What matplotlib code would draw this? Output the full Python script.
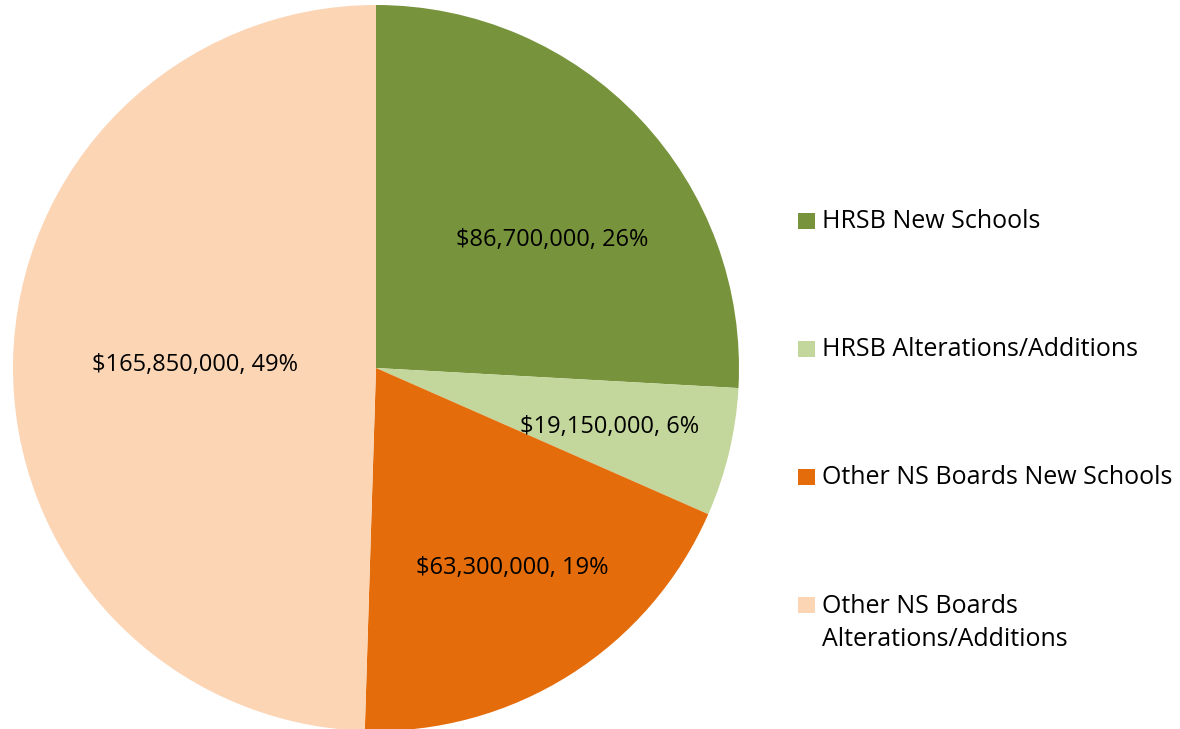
import numpy as np
import matplotlib.pyplot as plt
from matplotlib.patches import Rectangle

labels = ["HRSB New Schools", "HRSB Alterations/Additions",
          "Other NS Boards New Schools", "Other NS Boards\nAlterations/Additions"]
values = [86700000, 19150000, 63300000, 165850000]
pcts = [26, 6, 19, 49]
colors = ["#77933C", "#C3D69B", "#E46C0A", "#FCD5B5"]
# label placement: fraction of radius and angle shift from slice middle
label_dist = [0.60, 0.665, 0.667, 0.5]
label_shift = [-7.5, -0.7, 2.0, 0.0]

plt.rcParams['font.family'] = ['Open Sans', 'DejaVu Sans']

fig = plt.figure(figsize=(11.8, 7.29), dpi=100)
# pie axes: centre ~ (376, 368) px, radius ~ 363 px
r_px = 363
ax = fig.add_axes([(376 - r_px) / 1180, (729 - 368 - r_px) / 729,
                   2 * r_px / 1180, 2 * r_px / 729])
wedges, _ = ax.pie(values, colors=colors, startangle=90, counterclock=False,
                   radius=1, wedgeprops=dict(linewidth=0))
ax.set_xlim(-1, 1)
ax.set_ylim(-1, 1)
ax.set_aspect('auto')
ax.axis('off')

for w, v, p, d, s in zip(wedges, values, pcts, label_dist, label_shift):
    ang = np.deg2rad((w.theta1 + w.theta2) / 2 + s)
    ax.text(d * np.cos(ang), d * np.sin(ang), f"${v:,}, {p}%",
            ha='center', va='center', fontsize=17, color='black')

# legend drawn in pixel coords
lax = fig.add_axes([0, 0, 1, 1])
lax.set_xlim(0, 1180)
lax.set_ylim(729, 0)
lax.axis('off')
ys = [221, 349, 477, 605]
for y, lab, c in zip(ys, labels, colors):
    lax.add_patch(Rectangle((798, y - 8), 17, 16, color=c, lw=0))
    if '\n' in lab:
        lax.text(822, y - 11, lab, va='top', ha='left', fontsize=18,
                 linespacing=1.42)
    else:
        lax.text(822, y, lab, va='center', ha='left', fontsize=18)

fig.savefig("out.png", dpi=100)
